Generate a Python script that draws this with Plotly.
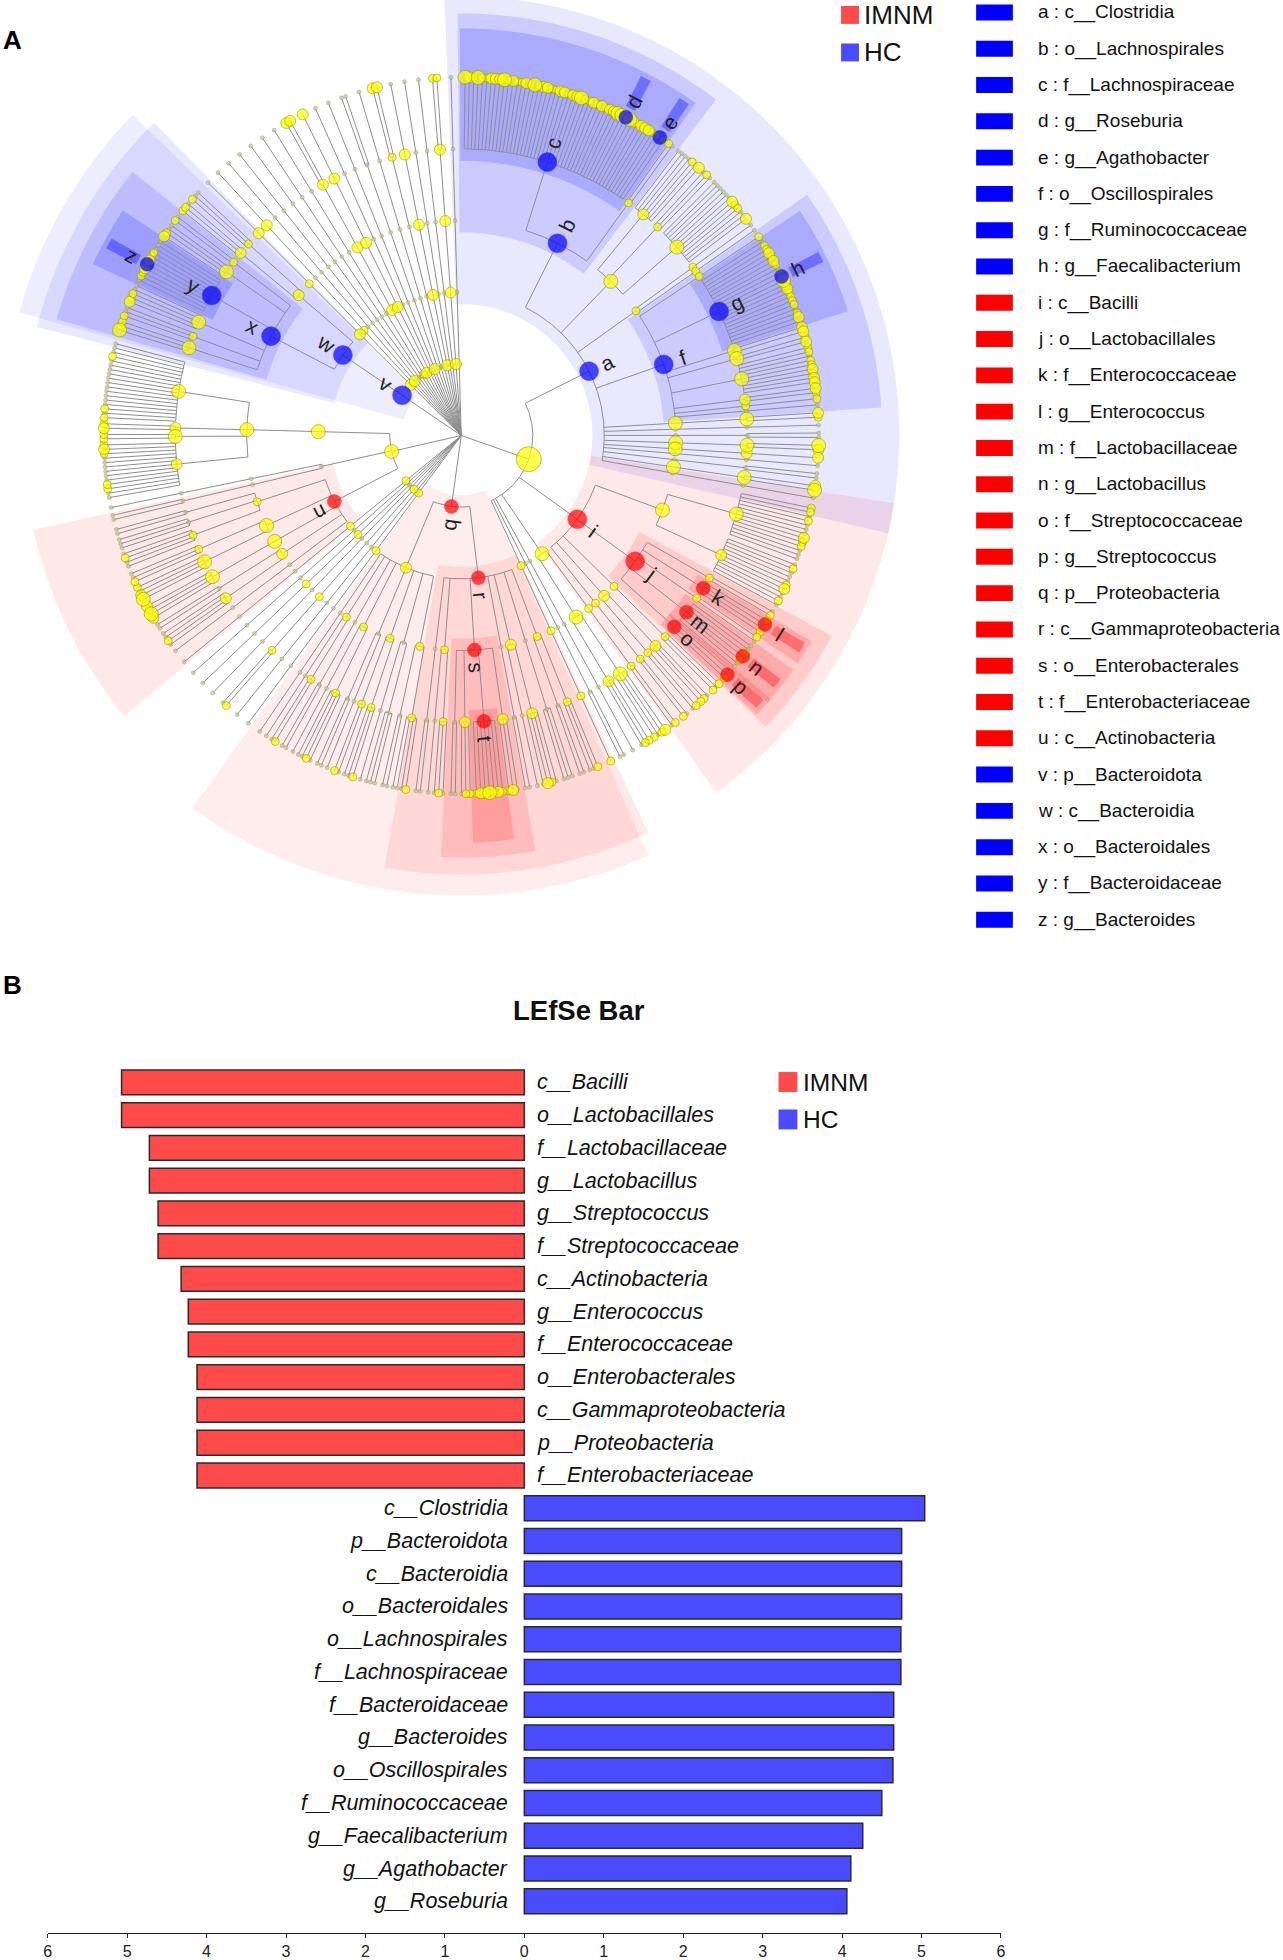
import math
import plotly.graph_objects as go

W, H = 1283, 1960
FONT = "Liberation Sans, Arial, Helvetica, sans-serif"

# ---------------- Panel A : cladogram data (clockwise from 12 o'clock) ----------------
# node = (label, size class, children); a family's children are a string of genus
# size classes (digit = non-significant genus, letter = significant genus)
FIRMICUTES = ('', 5, [
    ('a', 4, [
        ('b', 4, [
            ('c', 4, "32131122231211213122112212231121212233d32122211e1"),
            ('', 1, "10"),
        ]),
        ('', 3, [('', 2, "0000102"), ('', 1, "010"), ('', 3, "000000211002")]),
        ('', 1, [('', 1, "0"), ('', 1, "0")]),
        ('f', 4, [
            ('', 1, "1"),
            ('g', 4, "011212101h32211110120"),
            ('', 3, "22"),
            ('', 3, "12"),
            ('', 3, "110112122"),
            ('', 2, "21"),
            ('', 1, "1"),
            ('', 0, "0"),
        ]),
        ('', 3, [('', 3, "21")]),
        ('', 0, [('', 0, "0")]),
        ('', 0, [('', 0, "00")]),
        ('', 3, [('', 3, "32")]),
        ('', 3, [('', 2, "2")]),
        ('', 0, [('', 0, "0")]),
        ('', 0, [('', 0, "00")]),
        ('', 3, [('', 3, "23")]),
        ('', 0, [('', 0, "0")]),
    ]),
    ('i', 4, [
        ('', 3, [('', 3, "1101000211000"), ('', 2, "01000120010")]),
        ('j', 4, [
            ('', 1, "01"),
            ('k', 3, "1l01"),
            ('', 1, "10"),
            ('m', 3, "001n100"),
            ('o', 3, "0p1"),
        ]),
        ('', 1, [('', 1, "101")]),
        ('', 2, [('', 2, "011"), ('', 1, "10")]),
        ('', 1, [('', 1, "01")]),
    ]),
    ('', 3, [('', 1, [('', 1, "10")]), ('', 3, [('', 3, "2101"), ('', 2, "110")])]),
    ('', 0, [('', 0, [('', 0, "0")])]),
    ('', 0, [('', 0, [('', 0, "00")])]),
    ('', 1, [('', 1, [('', 1, "1")])]),
])

PROTEOBACTERIA = ('q', 3, [
    ('r', 3, [
        ('', 1, [('', 1, "100"), ('', 0, "00")]),
        ('', 0, [('', 0, "000")]),
        ('', 2, [('', 2, "0120"), ('', 0, "0")]),
        ('', 0, [('', 0, "00")]),
        ('s', 3, [('', 2, "021"), ('t', 3, "1213221"), ('', 2, "110"), ('', 0, "00")]),
        ('', 1, [('', 1, "010"), ('', 0, "0")]),
        ('', 0, [('', 0, "00")]),
    ]),
    ('', 2, [
        ('', 1, [('', 1, "1000"), ('', 0, "00")]),
        ('', 0, [('', 0, "000"), ('', 0, "0")]),
        ('', 1, [('', 1, "100"), ('', 1, "01")]),
        ('', 0, [('', 0, "0"), ('', 0, "00")]),
        ('', 1, [('', 1, "0100"), ('', 0, "0")]),
        ('', 0, [('', 0, "00")]),
        ('', 1, [('', 1, "10"), ('', 0, "0")]),
        ('', 0, [('', 0, "0")]),
    ]),
])

# single-chain phyla: (phylum, class, order, family size classes, genera)
LOWER_SMALL_PHYLA = [(1, 1, 0, 0, "0"), (0, 0, 0, 0, "0"), (1, 0, 1, 1, "10"),
                     (0, 0, 0, 0, "0"), (0, 1, 1, 0, "0"), (0, 0, 0, 0, "0"), (1, 1, 0, 0, "0")]

ACTINOBACTERIOTA = ('', 3, [
    ('u', 3, [
        ('', 0, [('', 0, "0")]),
        ('', 2, [('', 2, "0100"), ('', 0, "00")]),
        ('', 3, [('', 3, "2312")]),
        ('', 3, [('', 3, "3201"), ('', 1, "100")]),
        ('', 1, [('', 1, "0010"), ('', 0, "000"), ('', 0, "00")]),
    ]),
    ('', 0, [('', 0, [('', 0, "00")]), ('', 0, [('', 0, "0")])]),
    ('', 3, [
        ('', 3, [('', 2, "0011000000121"), ('', 3, "11"), ('', 2, "21"),
                 ('', 3, "101000000000001000")]),
    ]),
])

BACTEROIDOTA = ('v', 4, [
    ('w', 4, [
        ('x', 4, [
            ('', 3, "311"),
            ('', 1, "100"),
            ('', 3, "21100"),
            ('y', 4, "0112z211000"),
            ('', 3, "2100"),
            ('', 1, "10"),
        ]),
        ('', 2, [('', 2, "110"), ('', 1, "100")]),
    ]),
])

UPPER_SMALL_PHYLA = [(2, 2, 1, 2, "0"), (0, 1, 0, 2, "0"), (2, 0, 0, 0, "0"), (0, 0, 0, 0, "0"),
                     (0, 0, 0, 0, "0"), (0, 0, 0, 0, "0"), (1, 0, 0, 0, "0"), (2, 2, 2, 2, "22"),
                     (0, 2, 2, 2, "2"), (0, 0, 0, 0, "0"), (2, 0, 0, 0, "0"), (0, 0, 0, 0, "00"),
                     (0, 0, 0, 0, "0"), (0, 0, 0, 1, "22"), (2, 2, 2, 2, "0"), (0, 0, 0, 0, "0"),
                     (0, 0, 0, 0, "0"), (2, 2, 2, 2, "11"), (0, 0, 0, 0, "0")]

CLADE_KEYS = list("abcdefghijklmnopqrstuvwxyz")
CLADE_NAMES = ["c__Clostridia", "o__Lachnospirales", "f__Lachnospiraceae", "g__Roseburia",
               "g__Agathobacter", "o__Oscillospirales", "f__Ruminococcaceae", "g__Faecalibacterium",
               "c__Bacilli", "o__Lactobacillales", "f__Enterococcaceae", "g__Enterococcus",
               "f__Lactobacillaceae", "g__Lactobacillus", "f__Streptococcaceae", "g__Streptococcus",
               "p__Proteobacteria", "c__Gammaproteobacteria", "o__Enterobacterales",
               "f__Enterobacteriaceae", "c__Actinobacteria", "p__Bacteroidota", "c__Bacteroidia",
               "o__Bacteroidales", "f__Bacteroidaceae", "g__Bacteroides"]
CLADE_GROUP = ["HC"] * 8 + ["IMNM"] * 13 + ["HC"] * 5

# ---------------- Panel B : LEfSe bar data ----------------
BAR_TAXA = ["c__Bacilli", "o__Lactobacillales", "f__Lactobacillaceae", "g__Lactobacillus",
            "g__Streptococcus", "f__Streptococcaceae", "c__Actinobacteria", "g__Enterococcus",
            "f__Enterococcaceae", "o__Enterobacterales", "c__Gammaproteobacteria",
            "p__Proteobacteria", "f__Enterobacteriaceae", "c__Clostridia", "p__Bacteroidota",
            "c__Bacteroidia", "o__Bacteroidales", "o__Lachnospirales", "f__Lachnospiraceae",
            "f__Bacteroidaceae", "g__Bacteroides", "o__Oscillospirales", "f__Ruminococcaceae",
            "g__Faecalibacterium", "g__Agathobacter", "g__Roseburia"]
BAR_LDA = [5.07, 5.07, 4.72, 4.72, 4.61, 4.61, 4.32, 4.23, 4.23, 4.12, 4.12, 4.12, 4.12,
           5.04, 4.75, 4.75, 4.75, 4.74, 4.74, 4.65, 4.65, 4.64, 4.50, 4.26, 4.11, 4.06]
BAR_GROUP = ["IMNM"] * 13 + ["HC"] * 13
GROUPS = ["IMNM", "HC"]

# ---------------- styles ----------------
GROUP_BAR = {"IMNM": "#FF4A4A", "HC": "#4A4AFF"}
GROUP_NODE = {"IMNM": "#FF0000", "HC": "#0000FF"}
GROUP_RGB = {"IMNM": "255,0,0", "HC": "0,0,255"}
SIZE_PX = {0: 4, 1: 8, 2: 11, 3: 14, 4: 19, 5: 25}
CX, CY, STEP = 460.5, 437.5, 72.0
GAP = [3.2, 2.3, 1.8, 1.4, 1.0]
START = 89.4
R_OUT = {1: 462, 2: 441, 3: 424, 4: 409}
PAD = {1: 1.6, 2: 2.8, 3: 1.1, 4: 0.8}
ALPHA = {1: 0.07, 2: 0.09, 3: 0.12, 4: 0.16, 5: 0.35}
clade_group = dict(zip(CLADE_KEYS, CLADE_GROUP))


def chain(p, c, o, f, genera):
    return ('', p, [('', c, [('', o, [('', f, genera)])])])


PHYLA = ([FIRMICUTES, PROTEOBACTERIA] + [chain(*t) for t in LOWER_SMALL_PHYLA]
         + [ACTINOBACTERIOTA, BACTEROIDOTA] + [chain(*t) for t in UPPER_SMALL_PHYLA])

# ---------------- build tree ----------------
nodes, leaves = [], []


def add(label, size, level):
    nodes.append(dict(label=label, size=size, level=level, kids=[]))
    return len(nodes) - 1


def rec(t, level, path):
    label, size, ch = t
    i = add(label, size, level)
    if isinstance(ch, str):
        for c in ch:
            k = add('', int(c), level + 1) if c.isdigit() else add(c, 3, level + 1)
            nodes[i]['kids'].append(k)
            leaves.append((k, path + (i,)))
    else:
        for sub in ch:
            nodes[i]['kids'].append(rec(sub, level + 1, path + (i,)))
    return i


root = add('', 0, 0)
for ph in PHYLA:
    nodes[root]['kids'].append(rec(ph, 1, ()))

cum = [0.0]
for a, b in zip(leaves[:-1], leaves[1:]):
    d = next((j for j in range(4) if a[1][j] != b[1][j]), 4)
    cum.append(cum[-1] + GAP[d])
total = cum[-1] + GAP[0]
deg = 360.0 / total
theta = {}
for (k, _), c in zip(leaves, cum):
    theta[k] = START - c * deg
lo, hi = {}, {}


def place(n):
    if not nodes[n]['kids']:
        lo[n] = hi[n] = theta[n]
        return
    for k in nodes[n]['kids']:
        place(k)
    ks = nodes[n]['kids']
    theta[n] = 0.5 * (theta[ks[0]] + theta[ks[-1]])
    lo[n] = min(lo[k] for k in ks)
    hi[n] = max(hi[k] for k in ks)


place(root)


def P(r, th):
    t = math.radians(th)
    return CX + r * math.cos(t), CY - r * math.sin(t)


# edges
lx, ly = [], []
for n, nd in enumerate(nodes):
    ks = nd['kids']
    if not ks:
        continue
    r0 = STEP * nd['level']
    if len(ks) > 1 and r0 > 0:
        t0, t1 = theta[ks[0]], theta[ks[-1]]
        m = max(2, int(abs(t0 - t1) / 0.5) + 2)
        for j in range(m):
            x, y = P(r0, t0 + (t1 - t0) * j / (m - 1))
            lx.append(x); ly.append(y)
        lx.append(None); ly.append(None)
    for k in ks:
        x0, y0 = P(r0, theta[k])
        x1, y1 = P(STEP * nodes[k]['level'], theta[k])
        lx += [x0, x1, None]; ly += [y0, y1, None]

# wedges (clade backgrounds)
shapes = []
sig = [n for n, nd in enumerate(nodes) if nd['label']]
sig.sort(key=lambda n: nodes[n]['level'])
for n in sig:
    nd = nodes[n]
    L = nd['level']
    g = clade_group[nd['label']]
    if L == 5:
        a0, a1, rin, rout = theta[n] - 0.8, theta[n] + 0.8, 370, 404
    else:
        a0, a1 = lo[n] - PAD[L], hi[n] + PAD[L]
        rin, rout = STEP * L - 12, R_OUT[L]
    m = max(2, int((a1 - a0) / 0.5) + 2)
    pts = [P(rout, a1 + (a0 - a1) * j / (m - 1)) for j in range(m)]
    pts += [P(rin, a0 + (a1 - a0) * j / (m - 1)) for j in range(m)]
    path = "M " + " L ".join(f"{x:.2f},{y:.2f}" for x, y in pts) + " Z"
    shapes.append(dict(type="path", path=path, xref="x", yref="y", layer="below",
                       fillcolor=f"rgba({GROUP_RGB[g]},{ALPHA[L]})", line=dict(width=0)))

fig = go.Figure()
fig.add_trace(go.Scatter(x=lx, y=ly, mode="lines", line=dict(color="#8e8e8e", width=1),
                         hoverinfo="skip", xaxis="x", yaxis="y"))

tiny = [n for n, nd in enumerate(nodes) if n != root and not nd['label'] and nd['size'] == 0]
yel = [n for n, nd in enumerate(nodes) if n != root and not nd['label'] and nd['size'] > 0]
yel.sort(key=lambda n: nodes[n]['size'])
for group, fill, lcol, lw in [(tiny, "#c4c48a", "#8f8f5a", 0.6), (yel, "#FFFF00", "#A5A500", 1.0)]:
    xs, ys, ss = [], [], []
    for n in group:
        x, y = P(STEP * nodes[n]['level'], theta[n])
        xs.append(x); ys.append(y); ss.append(SIZE_PX[nodes[n]['size']])
    fig.add_trace(go.Scatter(x=xs, y=ys, mode="markers", hoverinfo="skip",
                             marker=dict(size=ss, color=fill, line=dict(color=lcol, width=lw)),
                             xaxis="x", yaxis="y"))
xs, ys, ss, cs = [], [], [], []
annotations = []
for n in sig:
    nd = nodes[n]
    r = STEP * nd['level']
    x, y = P(r, theta[n])
    s = SIZE_PX[nd['size']]
    xs.append(x); ys.append(y); ss.append(s); cs.append(GROUP_NODE[clade_group[nd['label']]])
    th = theta[n]
    tn = ((th + 180) % 360) - 180
    ang = -tn if -90 <= tn <= 90 else 180 - tn
    ang = ((ang + 180) % 360) - 180
    tx, ty = P(r + s / 2 + 11, th)
    annotations.append(dict(x=tx, y=ty, xref="x", yref="y", text=nd['label'], showarrow=False,
                            textangle=ang, font=dict(family=FONT, size=21, color="#222222")))
fig.add_trace(go.Scatter(x=xs, y=ys, mode="markers", hoverinfo="skip",
                         marker=dict(size=ss, color=cs, line=dict(color=cs, width=0.5)),
                         xaxis="x", yaxis="y"))

# panel A legends
for gi, g in enumerate(GROUPS):
    yc = 15 + 37.7 * gi
    shapes.append(dict(type="rect", xref="x", yref="y", x0=843, x1=861, y0=yc - 9, y1=yc + 9,
                       fillcolor=GROUP_BAR[g], line=dict(width=0)))
    annotations.append(dict(x=864, y=yc, xref="x", yref="y", text=g, showarrow=False,
                            xanchor="left", yanchor="middle",
                            font=dict(family=FONT, size=26, color="#111111")))
for i, (k, nm, g) in enumerate(zip(CLADE_KEYS, CLADE_NAMES, CLADE_GROUP)):
    yc = 12.5 + 36.46 * i
    shapes.append(dict(type="rect", xref="x", yref="y", x0=979, x1=1016, y0=yc - 8, y1=yc + 8,
                       fillcolor=GROUP_NODE[g], line=dict(width=0)))
    annotations.append(dict(x=1039, y=yc, xref="x", yref="y", text=f"{k} : {nm}",
                            showarrow=False, xanchor="left", yanchor="middle",
                            font=dict(family=FONT, size=19, color="#111111")))

# panel labels & title
annotations.append(dict(x=0, y=40, xref="x", yref="y", text="<b>A</b>", showarrow=False,
                        xanchor="left", yanchor="middle", xshift=-3,
                        font=dict(family=FONT, size=26, color="black")))
annotations.append(dict(x=0, y=990, xref="x", yref="y", text="<b>B</b>", showarrow=False,
                        xanchor="left", yanchor="middle", xshift=-3,
                        font=dict(family=FONT, size=26, color="black")))
annotations.append(dict(x=579, y=1015, xref="x", yref="y", text="<b>LEfSe Bar</b>", showarrow=False,
                        xanchor="center", yanchor="middle",
                        font=dict(family=FONT, size=27.5, color="#111111")))
for gi, g in enumerate(GROUPS):
    yc = 1087 + 37.6 * gi
    shapes.append(dict(type="rect", xref="x", yref="y", x0=780, x1=799, y0=yc - 10, y1=yc + 10,
                       fillcolor=GROUP_BAR[g], line=dict(width=0)))
    annotations.append(dict(x=803, y=yc, xref="x", yref="y", text=g, showarrow=False,
                            xanchor="left", yanchor="middle",
                            font=dict(family=FONT, size=24.5, color="#111111")))

# ---------------- Panel B bars ----------------
vals = [-v if g == "IMNM" else v for v, g in zip(BAR_LDA, BAR_GROUP)]
ypos = list(range(len(BAR_TAXA)))
fig.add_trace(go.Bar(x=vals, y=ypos, orientation="h", width=0.76, xaxis="x2", yaxis="y2",
                     marker=dict(color=[GROUP_BAR[g] for g in BAR_GROUP],
                                 line=dict(color="#2a2a2a", width=1.5)),
                     hoverinfo="skip"))
for i, (t, g) in enumerate(zip(BAR_TAXA, BAR_GROUP)):
    left = g == "IMNM"
    annotations.append(dict(x=0, y=i, xref="x2", yref="y2", text=f"<i>{t}</i>", showarrow=False,
                            xanchor="left" if left else "right", yanchor="middle",
                            xshift=11 if left else -14,
                            font=dict(family=FONT, size=21.5, color="#111111")))

fig.update_layout(
    width=W, height=H, margin=dict(l=0, r=0, t=0, b=0), showlegend=False,
    paper_bgcolor="white", plot_bgcolor="rgba(0,0,0,0)",
    xaxis=dict(domain=[0, 1], range=[0, W], visible=False, fixedrange=True),
    yaxis=dict(domain=[0, 1], range=[H, 0], visible=False, fixedrange=True),
    xaxis2=dict(domain=[44 / W, 1004 / W], range=[-6, 6], anchor="free", position=1 - 1942 / H,
                showline=True, linecolor="#222222", linewidth=1.2, ticks="outside", ticklen=4,
                tickcolor="#222222", tickvals=list(range(-6, 7)),
                ticktext=[str(abs(v)) for v in range(-6, 7)], showgrid=False, zeroline=False,
                tickfont=dict(family=FONT, size=16, color="#222222")),
    yaxis2=dict(domain=[1 - 1926.5 / H, 1 - 1070.9 / H], range=[25.5, -0.5], visible=False,
                anchor="x2"),
    shapes=shapes, annotations=annotations,
)
fig.write_html("out.html", config={"displayModeBar": False},
               post_script="document.body.style.margin='0';")
